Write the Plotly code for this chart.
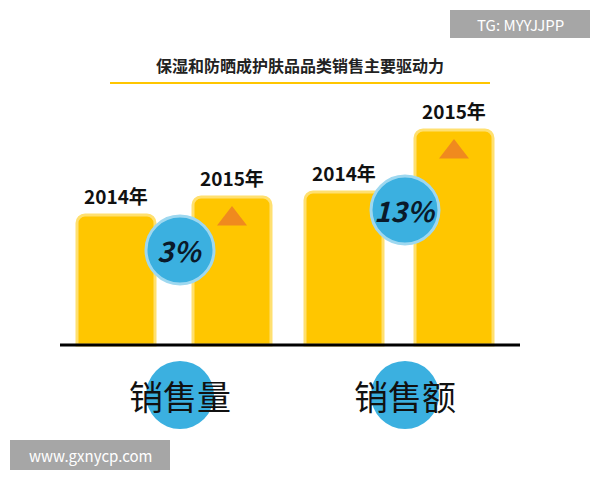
import plotly.graph_objects as go

groups = ["销售量", "销售额"]
years = ["2014年", "2015年", "2014年", "2015年"]
bar_x = [116, 232, 344, 454]
bar_values = [130, 148, 153, 215]
growth = ["3%", "13%"]

fig = go.Figure()
fig.add_trace(go.Bar(x=bar_x, y=bar_values, width=78,
                     marker=dict(color="#FFC600", line=dict(color="#FFE070", width=3),
                                 cornerradius=8), hoverinfo="skip"))
fig.add_trace(go.Scatter(x=[bar_x[1], bar_x[3]], y=[bar_values[1]-22, bar_values[3]-22],
                         mode="markers", marker=dict(symbol="triangle-up", size=26, color="#F08A1E"),
                         hoverinfo="skip"))
shapes = [dict(type="line", x0=60, x1=520, y0=0, y1=0, line=dict(color="black", width=3)),
          dict(type="line", x0=110, x1=490, y0=262, y1=262, line=dict(color="#FFC600", width=2))]
for cx, cy in [(180, 95), (405, 135)]:
    shapes.append(dict(type="circle", x0=cx-34, x1=cx+34, y0=cy-34, y1=cy+34,
                       fillcolor="#3BB0E0", line=dict(color="#9ED8F0", width=3), layer="above"))
for cx in [180, 405]:
    shapes.append(dict(type="circle", x0=cx-34, x1=cx+34, y0=-84, y1=-16,
                       fillcolor="#3BB0E0", line=dict(width=0), layer="below"))
shapes.append(dict(type="rect", x0=450, x1=590, y0=307, y1=335, fillcolor="#A6A6A6",
                   line=dict(width=0), layer="above"))
shapes.append(dict(type="rect", x0=10, x1=170, y0=-125, y1=-95, fillcolor="#A6A6A6",
                   line=dict(width=0), layer="above"))
fig.update_layout(shapes=shapes)

ann = [dict(x=300, y=280, text="<b>保湿和防晒成护肤品品类销售主要驱动力</b>",
            font=dict(size=16, color="#222"))]
for xx, v, t in zip(bar_x, bar_values, years):
    ann.append(dict(x=xx, y=v+20, text="<b>"+t+"</b>", font=dict(size=19, color="#111")))
for (cx, cy), g in zip([(180, 95), (405, 135)], growth):
    ann.append(dict(x=cx, y=cy, text="<b><i>"+g+"</i></b>", font=dict(size=28, color="#0A1A2A")))
for cx, g in zip([180, 405], groups):
    ann.append(dict(x=cx, y=-50, text=g, font=dict(size=34, color="#111",
                                                    family="Noto Sans CJK SC")))
ann.append(dict(x=520, y=321, text="TG: MYYJJPP", font=dict(size=15, color="white")))
ann.append(dict(x=90, y=-110, text="www.gxnycp.com", font=dict(size=15, color="white")))
for a in ann:
    a.update(showarrow=False, xref="x", yref="y")
fig.update_layout(annotations=ann, width=600, height=480,
                  margin=dict(l=0, r=0, t=0, b=0), paper_bgcolor="white", plot_bgcolor="white",
                  showlegend=False, font=dict(family="Noto Sans CJK SC"),
                  xaxis=dict(range=[8, 608], visible=False, fixedrange=True),
                  yaxis=dict(range=[-143, 337], visible=False, fixedrange=True))
fig.write_html("out.html")
